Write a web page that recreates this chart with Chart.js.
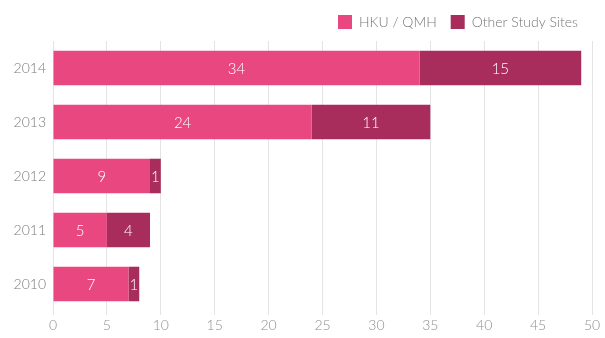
<!DOCTYPE html>
<html>
<head>
<meta charset="utf-8">
<script src="https://cdn.jsdelivr.net/npm/chart.js@4"></script>
<style>
  html, body { margin: 0; padding: 0; background: #fff; }
  #myChart { display: block; }
</style>
</head>
<body>
<canvas id="myChart" width="605" height="338"></canvas>
<script>
// Recruitment per year, split by site
const years = ['2014', '2013', '2012', '2011', '2010']
const hkuQmh = [34, 24, 9, 5, 7]
const otherSites = [15, 11, 1, 4, 1]
const seriesNames = ['HKU / QMH', 'Other Study Sites']

const FONT = 'Lato, "Liberation Sans", Arial, sans-serif'

// White value labels centred on each bar segment
const segmentLabels = {
    id: 'segmentLabels',
    afterDatasetsDraw(chart) {
        const ctx = chart.ctx
        ctx.save()
        ctx.fillStyle = '#ffffff'
        ctx.font = '300 15px ' + FONT
        ctx.textAlign = 'center'
        ctx.textBaseline = 'middle'
        chart.data.datasets.forEach((ds, i) => {
            chart.getDatasetMeta(i).data.forEach((bar, j) => {
                const p = bar.getCenterPoint()
                ctx.fillText(String(ds.data[j]), p.x, p.y + 1)
            })
        })
        ctx.restore()
    }
}

// A bit more room under the legend
const legendSpace = {
    id: 'legendSpace',
    beforeInit(chart) {
        const fit = chart.legend.fit
        chart.legend.fit = function () {
            fit.call(this)
            this.height += 2
        }
    }
}

const main = () => {
    const ctx = document.getElementById('myChart').getContext('2d')
    new Chart(ctx, {
        type: 'bar',
        data: {
            labels: years,
            datasets: [{
                label: seriesNames[0],
                data: hkuQmh,
                backgroundColor: '#e8477f'
            }, {
                label: seriesNames[1],
                data: otherSites,
                backgroundColor: '#a82c5c'
            }]
        },
        options: {
            indexAxis: 'y',
            responsive: false,
            animation: false,
            layout: { padding: { top: 1, right: 13, bottom: 0, left: 0 } },
            datasets: {
                bar: { categoryPercentage: 0.64, barPercentage: 1 }
            },
            scales: {
                x: {
                    stacked: true,
                    min: 0,
                    max: 50,
                    border: { display: false },
                    grid: { color: '#e4e4e4', lineWidth: 1, tickLength: 4 },
                    ticks: {
                        stepSize: 5,
                        padding: 2,
                        color: '#8f8f8f',
                        font: { family: FONT, size: 14, weight: '300' }
                    },
                    afterFit: s => { s.height = 27 }
                },
                y: {
                    stacked: true,
                    border: { display: false },
                    grid: { display: false, drawTicks: false, tickLength: 0 },
                    ticks: {
                        padding: 7,
                        color: '#7a7a7a',
                        font: { family: FONT, size: 14, weight: '300' }
                    },
                    afterFit: s => { s.width = 53 }
                }
            },
            plugins: {
                legend: {
                    position: 'top',
                    align: 'end',
                    labels: {
                        boxWidth: 14,
                        boxHeight: 14,
                        padding: 14,
                        color: '#777777',
                        font: { family: FONT, size: 14, weight: '300' }
                    }
                },
                tooltip: { enabled: false }
            }
        },
        plugins: [segmentLabels, legendSpace]
    })
}
main()
</script>
</body>
</html>
